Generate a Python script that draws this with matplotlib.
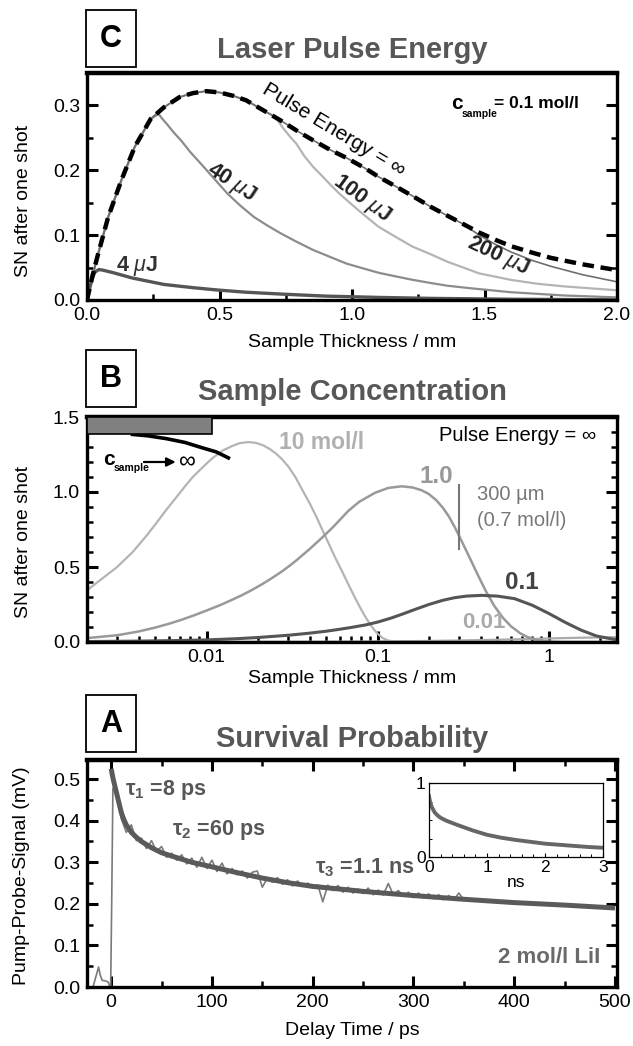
#!/usr/bin/env python3
"""Three stacked panels: laser pulse energy, sample concentration, survival probability."""

import matplotlib
matplotlib.use('Agg')
import matplotlib.pyplot as plt
from matplotlib.patches import Rectangle
from matplotlib.ticker import (MultipleLocator, FixedLocator, LogLocator,
                               NullFormatter, FormatStrFormatter)

# ---------------- panel C: pulse energy, c_sample = 0.1 mol/l ----------------
d_inf = [0, 0.02, 0.04, 0.08, 0.13, 0.18, 0.24, 0.29, 0.35, 0.40, 0.45, 0.50,
         0.55, 0.60, 0.68, 0.73, 0.80, 0.85, 0.92, 0.98, 1.05, 1.10, 1.17,
         1.23, 1.30, 1.36, 1.42, 1.48, 1.54, 1.60, 1.68, 1.75, 1.87, 2.0]
sn_inf = [0, 0.036, 0.068, 0.128, 0.185, 0.236, 0.279, 0.297, 0.313, 0.319,
          0.322, 0.320, 0.315, 0.308, 0.289, 0.277, 0.259, 0.247, 0.231, 0.219,
          0.203, 0.190, 0.174, 0.160, 0.143, 0.130, 0.117, 0.104, 0.093, 0.083,
          0.073, 0.065, 0.055, 0.046]

# finite energies follow the infinite-energy curve until they saturate
d_40 = d_inf[:7] + [0.27, 0.285, 0.30, 0.33, 0.355, 0.39, 0.43, 0.48, 0.53,
                    0.58, 0.63, 0.68, 0.73, 0.79, 0.854, 0.92, 0.98, 1.04, 1.1,
                    1.17, 1.23, 1.3, 1.36, 1.45, 1.6, 1.8, 2.0]
sn_40 = sn_inf[:7] + [0.287, 0.279, 0.272, 0.257, 0.246, 0.228, 0.210, 0.187,
                      0.164, 0.145, 0.128, 0.115, 0.103, 0.090, 0.077, 0.066,
                      0.056, 0.049, 0.042, 0.036, 0.031, 0.026, 0.022, 0.018,
                      0.012, 0.007, 0.004]
d_100 = d_inf[:15] + [0.71, 0.74, 0.77, 0.79, 0.82, 0.854, 0.89, 0.92, 0.95,
                      0.98, 1.04, 1.1, 1.17, 1.23, 1.3, 1.36, 1.42, 1.48, 1.54,
                      1.6, 1.7, 1.8, 1.9, 2.0]
sn_100 = sn_inf[:15] + [0.283, 0.265, 0.250, 0.241, 0.222, 0.205, 0.190, 0.177,
                        0.165, 0.154, 0.133, 0.113, 0.096, 0.082, 0.070, 0.059,
                        0.050, 0.041, 0.036, 0.031, 0.025, 0.021, 0.018, 0.015]
d_200 = d_inf[:27] + [1.48, 1.54, 1.60, 1.68, 1.75, 1.87, 2.0]
sn_200 = sn_inf[:27] + [0.100, 0.086, 0.074, 0.061, 0.052, 0.039, 0.028]
d_4 = [0, 0.01, 0.02, 0.03, 0.045, 0.06, 0.1, 0.17, 0.29, 0.4, 0.49, 0.6,
       0.74, 0.9, 1.1, 1.3, 1.6, 2.0]
sn_4 = [0, 0.018, 0.034, 0.043, 0.047, 0.046, 0.042, 0.034, 0.024, 0.019,
        0.0155, 0.012, 0.009, 0.006, 0.004, 0.0025, 0.0012, 0.0003]

# ---------------- panel B: sample concentration, pulse energy = inf ----------------
d_10 = [0.002, 0.0025, 0.003, 0.0037, 0.0045, 0.005, 0.0058, 0.0066, 0.0075,
        0.0083, 0.0091, 0.01, 0.0108, 0.0125, 0.014, 0.0155, 0.0175, 0.0195,
        0.0215, 0.0235, 0.0255, 0.0275, 0.03, 0.033, 0.036, 0.04, 0.044,
        0.048, 0.052, 0.056, 0.0616, 0.066, 0.07, 0.074, 0.078, 0.082, 0.086,
        0.09, 0.095, 0.1, 0.107, 0.115, 0.125, 0.14, 2.5]
sn_10 = [0.345, 0.43, 0.50, 0.60, 0.715, 0.782, 0.88, 0.96, 1.04, 1.10, 1.145,
         1.19, 1.225, 1.278, 1.305, 1.325, 1.333, 1.327, 1.31, 1.285, 1.255,
         1.22, 1.17, 1.10, 1.02, 0.925, 0.83, 0.735, 0.65, 0.57, 0.475, 0.405,
         0.345, 0.29, 0.24, 0.195, 0.155, 0.12, 0.083, 0.054, 0.026, 0.01,
         0.003, 0.0, 0.0]
d_1 = [0.002, 0.003, 0.004, 0.005, 0.006, 0.007, 0.0085, 0.01, 0.012, 0.014,
       0.016, 0.018, 0.021, 0.024, 0.0275, 0.031, 0.0336, 0.04, 0.047, 0.055,
       0.0674, 0.078, 0.0965, 0.115, 0.138, 0.16, 0.18, 0.198, 0.22, 0.24,
       0.26, 0.285, 0.31, 0.35, 0.387, 0.43, 0.48, 0.54, 0.6, 0.68, 0.75,
       0.85, 1.0, 1.2, 2.5]
sn_1 = [0.026, 0.045, 0.07, 0.096, 0.121, 0.145, 0.179, 0.21, 0.246, 0.28,
        0.311, 0.341, 0.384, 0.425, 0.47, 0.514, 0.546, 0.62, 0.693, 0.768,
        0.875, 0.935, 0.995, 1.027, 1.038, 1.03, 1.012, 0.988, 0.945, 0.895,
        0.838, 0.755, 0.67, 0.545, 0.44, 0.335, 0.24, 0.16, 0.105, 0.058,
        0.033, 0.013, 0.003, 0.0, 0.0]
d_01 = [0.002, 0.004, 0.007, 0.01, 0.015, 0.02, 0.03, 0.04, 0.05, 0.06, 0.07,
        0.085, 0.1, 0.12, 0.14, 0.165, 0.2, 0.24, 0.28, 0.33, 0.404, 0.5,
        0.63, 0.8, 1.0, 1.25, 1.55, 1.9, 2.34, 2.5]
sn_01 = [0.003, 0.006, 0.01, 0.014, 0.022, 0.03, 0.045, 0.059, 0.072, 0.085,
         0.097, 0.114, 0.133, 0.16, 0.187, 0.217, 0.251, 0.278, 0.295, 0.306,
         0.311, 0.306, 0.289, 0.245, 0.19, 0.13, 0.078, 0.04, 0.02, 0.015]
d_001 = [0.002, 0.01, 0.05, 0.1, 0.2, 0.3, 0.5, 0.8, 1.2, 1.8, 2.5]
sn_001 = [0.0, 0.001, 0.002, 0.004, 0.007, 0.01, 0.015, 0.02, 0.026, 0.03, 0.032]
# c_sample -> inf limit
d_lim = [0.0036, 0.0045, 0.0058, 0.0075, 0.0091, 0.0114, 0.0137]
sn_lim = [1.385, 1.375, 1.356, 1.33, 1.30, 1.267, 1.222]
bar_d = [0.002, 0.0108]
bar_sn = [1.385, 1.5]
mark_300um = [0.3, 0.62, 1.045]   # thickness, bottom, top

# ---------------- panel A: survival probability, 2 mol/l LiI ----------------
t_fit = [0, 1, 2, 3.5, 5, 7.5, 10, 12.5, 15, 20, 25, 30, 40, 50, 60, 80, 100,
         125, 150, 175, 200, 250, 300, 350, 400, 450, 500]
s_fit = [0.525, 0.512, 0.50, 0.485, 0.47, 0.445, 0.42, 0.403, 0.39, 0.372,
         0.36, 0.35, 0.335, 0.323, 0.315, 0.30, 0.289, 0.275, 0.262, 0.251,
         0.242, 0.23, 0.22, 0.211, 0.203, 0.197, 0.19]
t_dat = [-18, -16, -14, -12.5, -11, -9, -6, -3, -1.5, -0.5, 0.5, 1.7, 3.5,
         5, 10, 15, 20, 25, 30, 35, 40, 45, 50, 55, 60, 65, 70, 75, 80, 85, 90,
         95, 100, 105, 110, 115, 120, 125, 130, 135, 140, 145, 150, 155, 160,
         165, 170, 175, 180, 185, 190, 195, 200, 205, 210, 215, 220, 225, 230,
         235, 240, 245, 250, 255, 260, 265, 270, 275, 280, 285, 290, 295, 300,
         305, 310, 315, 320, 325, 330, 335, 340, 345, 350]
s_dat = [0.0, 0.018, 0.035, 0.048, 0.03, 0.016, 0.015, 0.012, 0.002, 0.0, 0.2,
         0.478, 0.472,
         0.462, 0.405, 0.372, 0.39, 0.352, 0.358, 0.333, 0.352, 0.326, 0.338,
         0.312, 0.322, 0.305, 0.318, 0.296, 0.31, 0.288, 0.312, 0.285, 0.305,
         0.278, 0.298, 0.272, 0.285, 0.27, 0.279, 0.262, 0.276, 0.279, 0.24,
         0.262, 0.252, 0.263, 0.247, 0.258, 0.243, 0.255, 0.242, 0.25, 0.238,
         0.246, 0.205, 0.245, 0.232, 0.244, 0.228, 0.24, 0.226, 0.236, 0.225,
         0.238, 0.222, 0.233, 0.221, 0.249, 0.222, 0.232, 0.218, 0.228, 0.215,
         0.226, 0.214, 0.224, 0.212, 0.222, 0.21, 0.22, 0.209, 0.226, 0.21]
# inset: long time decay in ns
t_ns = [0, 0.02, 0.05, 0.1, 0.15, 0.2, 0.3, 0.5, 0.75, 1.0, 1.25, 1.5, 1.75,
        2.0, 2.25, 2.5, 2.75, 3.0]
s_ns = [0.82, 0.74, 0.67, 0.6, 0.56, 0.53, 0.49, 0.43, 0.36, 0.30, 0.26, 0.23,
        0.205, 0.18, 0.165, 0.15, 0.135, 0.125]

# ---------------- fonts ----------------
plt.rcParams['font.family'] = ['Liberation Sans', 'DejaVu Sans']
plt.rcParams['mathtext.fontset'] = 'custom'
plt.rcParams['mathtext.rm'] = 'Liberation Sans'
plt.rcParams['mathtext.it'] = 'Liberation Sans:italic'
plt.rcParams['mathtext.bf'] = 'Liberation Sans:bold'

GRAY_TXT = '#575757'

W, H = 633, 1046
fig = plt.figure(figsize=(W / 100, H / 100), dpi=100)


def axes_px(l, t, r, b):
    return fig.add_axes([l / W, 1 - b / H, (r - l) / W, (b - t) / H])


def style_axes(ax, top=False):
    for sp in ax.spines.values():
        sp.set_linewidth(2.4)
    ax.spines['top'].set_linewidth(3.2)
    ax.tick_params(which='both', direction='in', top=top, right=True,
                   labelsize=14, pad=5)
    ax.tick_params(which='major', length=8, width=2.2)
    ax.tick_params(which='minor', length=4, width=1.8)


def panel_head(letter, box_top, title, title_y):
    fig.add_artist(Rectangle((86 / W, 1 - (box_top + 57) / H), 50 / W, 57 / H,
                             transform=fig.transFigure, fill=False,
                             lw=1.3, ec='black'))
    fig.text(111 / W, 1 - (box_top + 29) / H, letter, ha='center', va='center',
             fontsize=22, weight='bold', color='black')
    fig.text(352 / W, 1 - title_y / H, title, ha='center', va='center',
             fontsize=21, weight='bold', color=GRAY_TXT)


axC = axes_px(87, 73, 617, 300)
axB = axes_px(87, 417, 617, 642)
axA = axes_px(87, 760, 617, 987)
axI = axes_px(429, 783, 603, 857)

# ---------------- C ----------------
axC.plot(d_100, sn_100, color='#b4b4b4', lw=1.6)
axC.plot(d_40, sn_40, color='#8c8c8c', lw=1.6)
axC.plot(d_200, sn_200, color='#6e6e6e', lw=1.2)
axC.plot(d_4, sn_4, color='#555555', lw=2.4)
axC.plot(d_inf, sn_inf, color='black', lw=3.2, ls=(0, (2.6, 1.5)))
axC.set_xlim(0, 2.0)
axC.set_ylim(0, 0.35)
style_axes(axC)
axC.xaxis.set_major_locator(MultipleLocator(0.5))
axC.xaxis.set_minor_locator(MultipleLocator(0.25))
axC.yaxis.set_major_locator(MultipleLocator(0.1))
axC.yaxis.set_minor_locator(MultipleLocator(0.05))
axC.xaxis.set_major_formatter(FormatStrFormatter('%.1f'))
axC.yaxis.set_major_formatter(FormatStrFormatter('%.1f'))
axC.set_ylabel('SN after one shot', fontsize=14)
axC.yaxis.set_label_coords(-0.104, 0.436)
axC.set_xlabel('Sample Thickness / mm', fontsize=14)
axC.xaxis.set_label_coords(0.5, -0.15)

axC.text(0.93, 0.262, 'Pulse Energy = ∞', rotation=-31, ha='center',
         va='center', fontsize=15, rotation_mode='anchor')
axC.text(0.545, 0.181, r'40 $\mu$J', rotation=-33, ha='center', va='center',
         fontsize=15.5, weight='bold', color='#222222', rotation_mode='anchor')
axC.text(1.037, 0.156, r'100 $\mu$J', rotation=-36, ha='center', va='center',
         fontsize=15.5, weight='bold', color='#222222', rotation_mode='anchor')
axC.text(1.55, 0.067, r'200 $\mu$J', rotation=-25, ha='center', va='center',
         fontsize=15.5, weight='bold', color='#222222', rotation_mode='anchor')
axC.text(0.19, 0.053, r'4 $\mu$J', ha='center', va='center',
         fontsize=15.5, weight='bold', color='#333333')
axC.text(1.374, 0.303, 'c', ha='left', va='center', fontsize=15,
         weight='bold', color='black')
axC.text(1.412, 0.287, 'sample', ha='left', va='center', fontsize=7.5,
         weight='bold', color='black')
axC.text(1.857, 0.303, '= 0.1 mol/l', ha='right', va='center', fontsize=12.5,
         weight='bold', color='black')

# ---------------- B ----------------
axB.set_xscale('log')
axB.add_patch(Rectangle((bar_d[0], bar_sn[0]), bar_d[1] - bar_d[0],
                        bar_sn[1] - bar_sn[0], fc='#808080', ec='black', lw=1.2,
                        zorder=3))
axB.plot(d_001, sn_001, color='#aaaaaa', lw=1.6)
axB.plot(d_10, sn_10, color='#b4b4b4', lw=1.6)
axB.plot(d_1, sn_1, color='#999999', lw=1.8)
axB.plot(d_01, sn_01, color='#555555', lw=2.2)
axB.plot(d_lim, sn_lim, color='black', lw=2.6, solid_capstyle='butt')
axB.plot([mark_300um[0]] * 2, mark_300um[1:], color='#777777', lw=1.5)
axB.set_xlim(0.002, 2.5)
axB.set_ylim(0, 1.5)
style_axes(axB)
axB.xaxis.set_major_locator(FixedLocator([0.01, 0.1, 1]))
axB.set_xticklabels(['0.01', '0.1', '1'])
axB.xaxis.set_minor_locator(LogLocator(base=10, subs=[2, 3, 4, 5, 6, 7, 8, 9]))
axB.xaxis.set_minor_formatter(NullFormatter())
axB.yaxis.set_major_locator(MultipleLocator(0.5))
axB.yaxis.set_minor_locator(MultipleLocator(0.1))
axB.yaxis.set_major_formatter(FormatStrFormatter('%.1f'))
axB.set_ylabel('SN after one shot', fontsize=14)
axB.yaxis.set_label_coords(-0.104, 0.444)
axB.set_xlabel('Sample Thickness / mm', fontsize=14)
axB.xaxis.set_label_coords(0.5, -0.125)

axB.text(1.9, 1.378, 'Pulse Energy = ∞', ha='right', va='center', fontsize=14.5)
axB.text(0.0264, 1.33, '10 mol/l', ha='left', va='center', fontsize=16.5,
         weight='bold', color='#b0b0b0')
axB.text(0.176, 1.105, '1.0', ha='left', va='center', fontsize=17.5,
         weight='bold', color='#999999')
axB.text(0.553, 0.398, '0.1', ha='left', va='center', fontsize=17.5,
         weight='bold', color='#444444')
axB.text(0.31, 0.131, '0.01', ha='left', va='center', fontsize=16,
         weight='bold', color='#aaaaaa')
axB.text(0.38, 0.985, '300 µm', ha='left', va='center', fontsize=14.5,
         color='#777777')
axB.text(0.38, 0.811, '(0.7 mol/l)', ha='left', va='center', fontsize=14.5,
         color='#777777')
axB.text(0.00249, 1.215, 'c', ha='left', va='center', fontsize=15,
         weight='bold', color='black')
axB.text(0.00286, 1.16, 'sample', ha='left', va='center', fontsize=7.5,
         weight='bold', color='black')
axB.annotate('', xy=(0.0066, 1.2), xytext=(0.0043, 1.2),
             arrowprops=dict(arrowstyle='-|>', color='black', lw=1.6,
                             mutation_scale=13, shrinkA=0, shrinkB=0))
axB.text(0.0069, 1.2, '∞', ha='left', va='center', fontsize=17,
         color='black')

# ---------------- A ----------------
axA.plot(t_dat, s_dat, color='#7a7a7a', lw=1.2)
axA.plot(t_fit, s_fit, color='#5a5a5a', lw=3.6, solid_capstyle='butt')
axA.set_xlim(-24, 502)
axA.set_ylim(0, 0.546)
style_axes(axA, top=True)
axA.xaxis.set_major_locator(MultipleLocator(100))
axA.xaxis.set_minor_locator(MultipleLocator(50))
axA.yaxis.set_major_locator(MultipleLocator(0.1))
axA.yaxis.set_minor_locator(MultipleLocator(0.05))
axA.xaxis.set_major_formatter(FormatStrFormatter('%d'))
axA.yaxis.set_major_formatter(FormatStrFormatter('%.1f'))
axA.set_ylabel('Pump-Probe-Signal (mV)', fontsize=14)
axA.yaxis.set_label_coords(-0.107, 0.49)
axA.set_xlabel('Delay Time / ps', fontsize=14)
axA.xaxis.set_label_coords(0.5, -0.155)

axA.text(14, 0.474, r'τ$_\mathbf{1}$ =8 ps', ha='left', va='center',
         fontsize=15.5, weight='bold', color=GRAY_TXT)
axA.text(60, 0.378, r'τ$_\mathbf{2}$ =60 ps', ha='left', va='center',
         fontsize=15.5, weight='bold', color=GRAY_TXT)
axA.text(202, 0.286, r'τ$_\mathbf{3}$ =1.1 ns', ha='left', va='center',
         fontsize=15.5, weight='bold', color=GRAY_TXT)
axA.text(485, 0.072, '2 mol/l LiI', ha='right', va='center',
         fontsize=16, weight='bold', color='#6a6a6a')

# inset
axI.plot(t_ns, s_ns, color='#666666', lw=2.8)
axI.set_xlim(0, 3)
axI.set_ylim(0, 1)
for sp in axI.spines.values():
    sp.set_linewidth(0.9)
axI.set_xticks([0, 1, 2, 3])
axI.set_yticks([0, 1])
axI.xaxis.set_minor_locator(MultipleLocator(0.2))
axI.yaxis.set_minor_locator(MultipleLocator(0.25))
axI.tick_params(which='both', direction='in', labelsize=12.5)
axI.tick_params(axis='x', pad=2.5)
axI.tick_params(axis='y', pad=2.5)
axI.tick_params(which='major', length=3, width=0.8)
axI.tick_params(which='minor', length=2, width=0.7)
axI.set_xlabel('ns', fontsize=12.5, labelpad=0)

panel_head('C', 10, 'Laser Pulse Energy', 50)
panel_head('B', 350, 'Sample Concentration', 392)
panel_head('A', 695, 'Survival Probability', 739)

fig.savefig('out.png', dpi=100)
